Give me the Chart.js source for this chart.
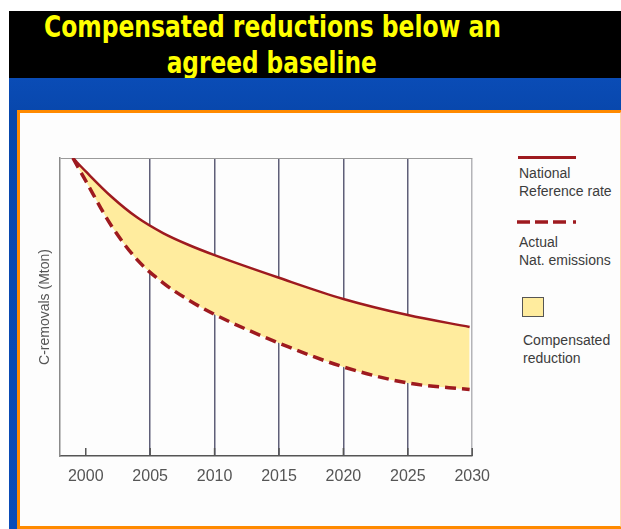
<!DOCTYPE html>
<html>
<head>
<meta charset="utf-8">
<script src="https://cdn.jsdelivr.net/npm/chart.js@4"></script>
<style>
  body { margin: 0; width: 621px; height: 529px; background: #fff; position: relative; overflow: hidden; font-family: "Liberation Sans", Arial, sans-serif; }
  .header { position: absolute; left: 9px; top: 11px; width: 612px; height: 67px; background: #000; overflow: hidden; }
  /* wide box centred on x=272 of the page so the squeezed text stays centred */
  .hline { position: absolute; left: -237px; width: 1000px; text-align: center; white-space: nowrap;
    font-family: "DejaVu Sans", sans-serif; font-weight: bold; font-size: 30px; line-height: 36px; color: #ffff00; }
  .hline span { display: inline-block; transform-origin: center; }
  .band { position: absolute; left: 9px; top: 78px; width: 612px; height: 451px;
    background: linear-gradient(180deg, #0a4cb6 0%, #0847ac 8%, #0b4cb8 100%); }
  .panel { position: absolute; left: 17px; top: 110px; width: 600px; height: 413px;
    border: 3px solid #ff8a00; border-right-color: #ffd9b0; background: #fdfdfd; }
  #chart { position: absolute; left: 21px; top: 114px; }
  .leg { position: absolute; font-size: 14px; line-height: 18px; color: #3c3c3c; white-space: nowrap; }
</style>
</head>
<body>
<div class="band"></div>
<div class="header">
  <div class="hline" style="top:-2px"><span data-w="457">Compensated reductions below an</span></div>
  <div class="hline" style="top:34px"><span data-w="210">agreed baseline</span></div>
</div>
<div class="panel"></div>
<canvas id="chart" width="480" height="382"></canvas>

<!-- legend -->
<div style="position:absolute;left:518px;top:156px;width:58px;height:3px;background:#9e1a1f"></div>
<div class="leg" style="left:519px;top:164px">National<br>Reference rate</div>
<svg style="position:absolute;left:517px;top:219px" width="62" height="6">
  <line x1="0" y1="3" x2="60" y2="3" stroke="#9e1a1f" stroke-width="3.5" stroke-dasharray="13 5 13 5 13 7 3 20"/>
</svg>
<div class="leg" style="left:519px;top:233px">Actual<br>Nat. emissions</div>
<div style="position:absolute;left:522px;top:297px;width:20px;height:18px;background:#ffec9e;border:1px solid #555"></div>
<div class="leg" style="left:523px;top:331px">Compensated<br>reduction</div>

<script>
// --- Data (y in arbitrary units 0..100) ---
const years = [1999, 2000, 2002, 2004, 2006, 2008, 2010, 2015, 2020, 2025, 2029.8];
const referenceRate = [100, 95.5, 87, 80, 74.8, 70.8, 67.4, 59.8, 52.7, 47.3, 43.3];
const actualEmissions = [100, 92.3, 77.2, 65.8, 58.1, 52.3, 47.5, 37.9, 29.9, 24.5, 22.3];
const tickYears = [2000, 2005, 2010, 2015, 2020, 2025, 2030];

const lineColor = "#9e1a1f";

// squeeze header lines to the width of the original
document.querySelectorAll(".hline span").forEach((el) => {
  const w = el.getBoundingClientRect().width;
  el.style.transform = "scaleX(" + (Number(el.dataset.w) / w) + ")";
});

// little inner tick marks on the x axis
const innerTicks = {
  id: "innerTicks",
  afterDraw(chart) {
    const x = chart.scales.x;
    const c = chart.ctx;
    c.save();
    c.strokeStyle = "#555";
    c.lineWidth = 1.5;
    tickYears.forEach((yr) => {
      const px = x.getPixelForValue(yr);
      c.beginPath();
      c.moveTo(px, x.top);
      c.lineTo(px, x.top - 8);
      c.stroke();
    });
    c.restore();
  },
};

const ctx = document.getElementById("chart");
new Chart(ctx, {
  type: "line",
  data: {
    datasets: [
      {
        label: "National Reference rate",
        data: years.map((yr, i) => ({ x: yr, y: referenceRate[i] })),
        borderColor: lineColor,
        borderWidth: 2.5,
        pointRadius: 0,
        cubicInterpolationMode: "monotone",
        fill: false,
      },
      {
        label: "Actual Nat. emissions",
        data: years.map((yr, i) => ({ x: yr, y: actualEmissions[i] })),
        borderColor: lineColor,
        borderWidth: 3.5,
        borderDash: [11, 6],
        pointRadius: 0,
        cubicInterpolationMode: "monotone",
        fill: "-1",
        backgroundColor: "#ffec9e",
      },
    ],
  },
  options: {
    responsive: false,
    animation: false,
    layout: { padding: { top: 44, right: 25, left: 0, bottom: 0 } },
    plugins: { legend: { display: false }, tooltip: { enabled: false } },
    scales: {
      x: {
        type: "linear",
        min: 1998,
        max: 2030,
        z: 1,
        afterBuildTicks: (s) => { s.ticks = tickYears.map((v) => ({ value: v })); },
        afterFit: (s) => { s.height = 40; },
        ticks: {
          color: "#555",
          font: { family: "Liberation Sans", size: 16 },
          padding: 11,
          maxRotation: 0,
          callback: (v) => String(v),
        },
        grid: {
          drawTicks: false,
          lineWidth: 1.5,
          color: (c) => {
            const v = c.tick && c.tick.value;
            if (v === 2000) return "rgba(0,0,0,0)";
            if (v === 2030) return "#b4b4b8";
            return "#5f5f78";
          },
        },
        border: { color: "#555", width: 1.5 },
      },
      y: {
        min: 0,
        max: 100,
        afterBuildTicks: (s) => { s.ticks = [{ value: 0 }, { value: 100 }]; },
        afterFit: (s) => { s.width = 39; },
        ticks: { display: false },
        grid: {
          drawTicks: false,
          color: (c) => (c.tick && c.tick.value === 100 ? "#9a9a9a" : "rgba(0,0,0,0)"),
        },
        border: { color: "#8a8a8a", width: 1.5 },
        title: {
          display: true,
          text: "C-removals (Mton)",
          color: "#555",
          font: { family: "Liberation Sans", size: 14 },
          padding: { top: 16, bottom: 0 },
        },
      },
    },
  },
  plugins: [innerTicks],
});
</script>
</body>
</html>
